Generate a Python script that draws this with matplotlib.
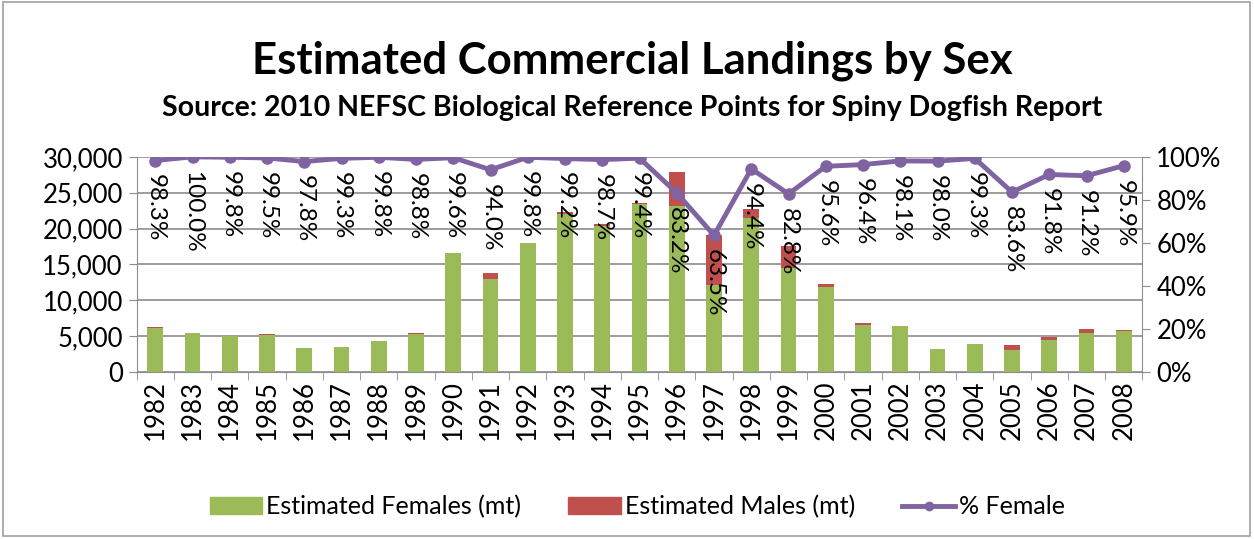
import numpy as np
import matplotlib.pyplot as plt
from matplotlib.patches import Rectangle
from matplotlib.lines import Line2D

plt.rcParams['font.family'] = ['Lato', 'DejaVu Sans']

years = ['1982', '1983', '1984', '1985', '1986', '1987', '1988', '1989', '1990',
         '1991', '1992', '1993', '1994', '1995', '1996', '1997', '1998', '1999',
         '2000', '2001', '2002', '2003', '2004', '2005', '2006', '2007', '2008']
females = [6095, 5360, 4970, 5194, 3325, 3515, 4271, 5296, 16534,
           12944, 18014, 22062, 20382, 23488, 23213, 12109, 21514, 14523,
           11787, 6546, 6347, 3146, 3932, 3110, 4480, 5436, 5668]
males = [105, 0, 10, 26, 75, 25, 9, 64, 66,
         826, 36, 178, 268, 142, 4687, 6961, 1276, 3017,
         543, 244, 123, 64, 28, 610, 400, 524, 242]
pct_female = [98.3, 100.0, 99.8, 99.5, 97.8, 99.3, 99.8, 98.8, 99.6,
              94.0, 99.8, 99.2, 98.7, 99.4, 83.2, 63.5, 94.4, 82.8,
              95.6, 96.4, 98.1, 98.0, 99.3, 83.6, 91.8, 91.2, 95.9]

green = '#9BBB59'
red = '#C0504D'
purple = '#8064A2'
grid_c = '#8C8C8C'

fig = plt.figure(figsize=(12.54, 5.39), dpi=100)
ax = fig.add_axes([0.109, 0.310, 0.802, 0.399])
x = np.arange(len(years))

ax.bar(x, females, width=0.42, color=green, zorder=2)
ax.bar(x, males, width=0.42, bottom=females, color=red, zorder=2)
ax.set_ylim(0, 30000)
ax.set_xlim(-0.5, len(years) - 0.5)
ax.set_yticks(range(0, 30001, 5000))
ax.set_yticklabels([f'{v:,}' for v in range(0, 30001, 5000)], fontsize=18.5)
ax.yaxis.grid(True, color=grid_c, linewidth=1.2, zorder=0)
ax.set_axisbelow(True)
ax.set_xticks(x)
ax.set_xticklabels(years, rotation=90, fontsize=18.5)
ax.tick_params(axis='x', length=0, pad=6)
ax.set_xticks(np.arange(-0.5, len(years)), minor=True)
ax.tick_params(axis='x', which='minor', length=6, color=grid_c)
ax.tick_params(axis='y', length=6, color=grid_c, pad=4)
for s in ['top', 'right']:
    ax.spines[s].set_visible(False)
for s in ['left', 'bottom']:
    ax.spines[s].set_color(grid_c)

ax2 = ax.twinx()
ax2.plot(x, pct_female, color=purple, linewidth=3.5, marker='o', markersize=8, zorder=3)
ax2.set_ylim(0, 100)
ax2.set_yticks(range(0, 101, 20))
ax2.set_yticklabels([f'{v}%' for v in range(0, 101, 20)], fontsize=18.5)
ax2.tick_params(axis='y', length=6, color=grid_c, pad=4)
for s in ['top', 'left', 'bottom']:
    ax2.spines[s].set_visible(False)
ax2.spines['right'].set_color(grid_c)

for xi, p in zip(x, pct_female):
    ax2.annotate(f'{p:.1f}%', (xi, p), xytext=(0, -10), textcoords='offset points',
                 rotation=270, ha='center', va='top', fontsize=17.5, color='black')

fig.text(0.504, 0.888, 'Estimated Commercial Landings by Sex', ha='center', va='center',
         fontsize=31.5, fontweight='bold')
fig.text(0.504, 0.8, 'Source: 2010 NEFSC Biological Reference Points for Spiny Dogfish Report',
         ha='center', va='center', fontsize=20.5, fontweight='bold')

handles = [Rectangle((0, 0), 1, 1, color=green),
           Rectangle((0, 0), 1, 1, color=red),
           Line2D([], [], color=purple, linewidth=3.5, marker='o', markersize=6)]
fig.legend(handles, ['Estimated Females (mt)', 'Estimated Males (mt)', '% Female'],
           loc='center', bbox_to_anchor=(0.508, 0.06), ncol=3, frameon=False,
           fontsize=18, handlelength=2.1, handleheight=0.7, columnspacing=1.9,
           handletextpad=0.15)

fig.add_artist(Rectangle((0.002, 0.006), 0.995, 0.99, transform=fig.transFigure,
                         fill=False, edgecolor='#A0A0A0', linewidth=1.2))

fig.savefig('out.png', dpi=100)
